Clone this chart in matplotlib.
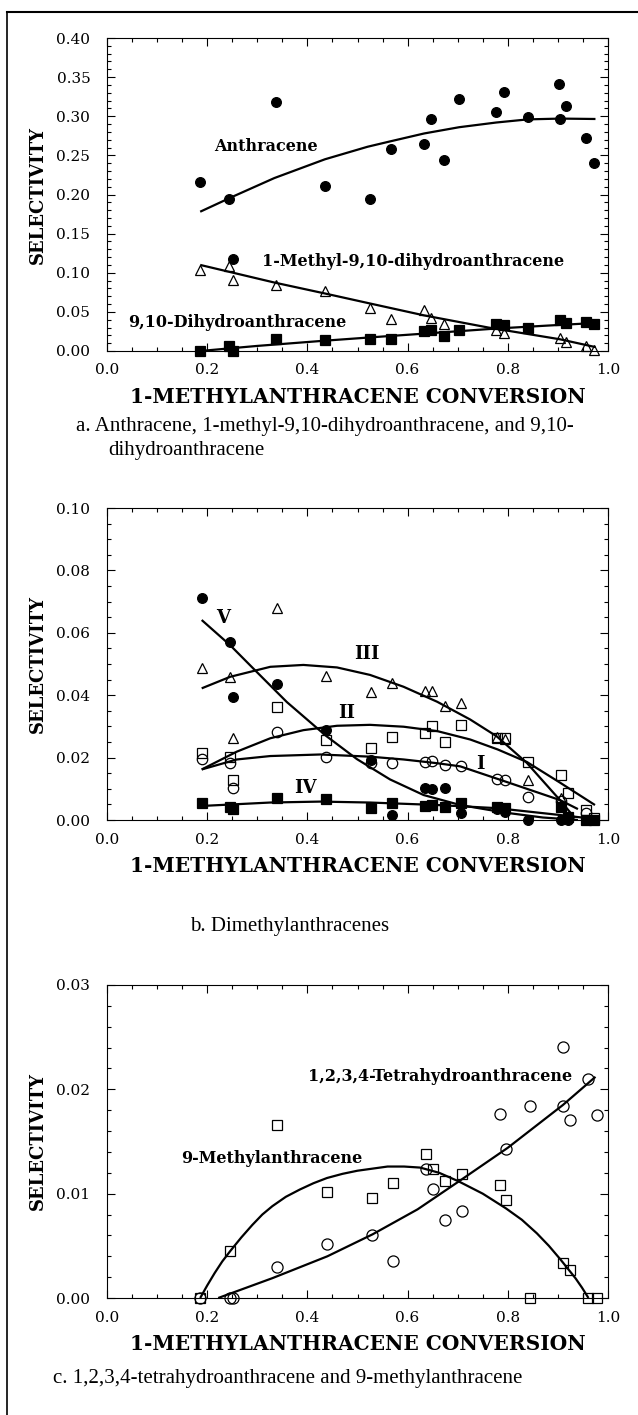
import numpy as np
import matplotlib
matplotlib.use('Agg')
from matplotlib import pyplot as plt
from matplotlib.ticker import MultipleLocator, FormatStrFormatter
from matplotlib.lines import Line2D

nan = np.nan

## panel a : anthracene, 1-methyl-9,10-DHA, 9,10-DHA
anth_x = [0.186, 0.244, 0.251, 0.337, 0.435, 0.525, 0.566, 0.633, 0.647, 0.673,
          0.703, 0.777, 0.793, 0.840, 0.903, 0.905, 0.917, 0.957, 0.973]
anth_y = [0.216, 0.194, 0.118, 0.318, 0.211, 0.194, 0.258, 0.264, 0.297, 0.244,
          0.322, 0.306, 0.331, 0.299, 0.341, 0.296, 0.313, 0.272, 0.240]
anth_fit_x = [0.186, 0.25, 0.334, 0.435, 0.52, 0.566, 0.633, 0.703, 0.777, 0.840, 0.905, 0.975]
anth_fit_y = [0.178, 0.197, 0.221, 0.245, 0.261, 0.268, 0.278, 0.286, 0.292, 0.296, 0.297, 0.2965]

mdha_x = [0.186, 0.244, 0.251, 0.337, 0.435, 0.525, 0.566, 0.633, 0.647, 0.673,
          0.777, 0.793, 0.905, 0.917, 0.957, 0.973]
mdha_y = [0.104, 0.108, 0.091, 0.084, 0.077, 0.055, 0.041, 0.052, 0.042, 0.035,
          0.027, 0.023, 0.016, 0.012, 0.006, 0.001]
mdha_fit_x = [0.186, 0.334, 0.435, 0.523, 0.633, 0.761, 0.904, 0.975]
mdha_fit_y = [0.110, 0.0875, 0.0735, 0.0610, 0.0455, 0.0300, 0.0150, 0.0050]

dha_x = [0.186, 0.244, 0.251, 0.337, 0.435, 0.525, 0.566, 0.633, 0.647, 0.673,
         0.703, 0.777, 0.793, 0.840, 0.905, 0.917, 0.957, 0.973]
dha_y = [0.000, 0.006, 0.000, 0.015, 0.014, 0.015, 0.015, 0.025, 0.027, 0.019,
         0.027, 0.0345, 0.033, 0.030, 0.039, 0.036, 0.0375, 0.035]
dha_fit_x = [0.186, 0.30, 0.435, 0.55, 0.633, 0.777, 0.88, 0.975]
dha_fit_y = [0.000, 0.0065, 0.0132, 0.0185, 0.0222, 0.0287, 0.0325, 0.0358]

## panel b : dimethylanthracenes I - V
conv_b = [0.189, 0.246, 0.252, 0.340, 0.437, 0.526, 0.568, 0.635, 0.649, 0.674,
          0.706, 0.778, 0.794, 0.840, 0.907, 0.920, 0.957, 0.973]
dma1_y = [0.0194, 0.0184, 0.0101, 0.0283, 0.0203, 0.0182, 0.0182, 0.0187, 0.0189, 0.0176,
          0.0173, 0.0131, 0.0127, 0.0074, 0.0062, nan, 0.0022, nan]
dma2_y = [0.0214, 0.0203, 0.0128, 0.0362, 0.0256, 0.0232, 0.0267, 0.0280, 0.0302, 0.0251,
          0.0303, 0.0263, 0.0263, 0.0186, 0.0144, 0.0087, 0.0032, 0.0005]
dma3_y = [0.0486, 0.0459, 0.0262, 0.0678, 0.0463, 0.0411, 0.0440, 0.0413, 0.0413, 0.0366,
          0.0376, 0.0266, 0.0260, 0.0128, 0.0070, nan, nan, nan]
dma4_y = [0.0056, 0.0043, 0.0034, 0.0069, 0.0066, 0.0037, 0.0056, 0.0045, 0.0048, 0.0043,
          0.0053, 0.0042, 0.0037, nan, 0.0042, 0.0010, 0.0, 0.0]
dma5_y = [0.0710, 0.0572, 0.0394, 0.0437, 0.0287, 0.0192, 0.0015, 0.0104, 0.0100, 0.0101,
          0.0021, 0.0035, 0.0025, 0.0, 0.0, 0.0, 0.0, 0.0]

dma1_fit_x = [0.189, 0.259, 0.326, 0.426, 0.525, 0.592, 0.659, 0.705, 0.805, 0.904, 0.940]
dma1_fit_y = [0.0162, 0.0194, 0.0205, 0.0210, 0.0203, 0.0194, 0.0182, 0.0172, 0.0118, 0.0064, 0.0035]
dma2_fit_x = [0.189, 0.259, 0.326, 0.392, 0.459, 0.525, 0.592, 0.659, 0.725, 0.780, 0.838, 0.904, 0.974]
dma2_fit_y = [0.0162, 0.0219, 0.0262, 0.0288, 0.0302, 0.0305, 0.0299, 0.0285, 0.0258, 0.0226, 0.0186, 0.0120, 0.0048]
dma3_fit_x = [0.189, 0.246, 0.326, 0.392, 0.459, 0.525, 0.592, 0.659, 0.725, 0.778, 0.838, 0.904, 0.934]
dma3_fit_y = [0.0422, 0.0459, 0.0491, 0.0497, 0.0489, 0.0465, 0.0427, 0.0379, 0.0322, 0.0268, 0.0183, 0.0064, 0.0006]
dma4_fit_x = [0.189, 0.326, 0.426, 0.525, 0.659, 0.778, 0.904, 0.975]
dma4_fit_y = [0.0045, 0.0056, 0.0059, 0.0056, 0.0048, 0.0038, 0.0016, 0.0003]
dma5_fit_x = [0.189, 0.246, 0.293, 0.359, 0.437, 0.499, 0.565, 0.632, 0.705, 0.793, 0.870, 0.940]
dma5_fit_y = [0.0641, 0.0560, 0.0484, 0.0378, 0.0270, 0.0195, 0.0130, 0.0080, 0.0048, 0.0024, 0.0008, 0.0]

## panel c : 1,2,3,4-tetrahydroanthracene and 9-methylanthracene
me9_x = [0.186, 0.246, 0.340, 0.439, 0.528, 0.570, 0.637, 0.651, 0.675, 0.708,
         0.784, 0.797, 0.844, 0.910, 0.925, 0.961, 0.978]
me9_y = [0.0, 0.0045, 0.0166, 0.0102, 0.0096, 0.0110, 0.0138, 0.0124, 0.0112, 0.0119,
         0.0108, 0.0094, 0.0, 0.0034, 0.0027, 0.0, 0.0]
me9_fit_x = [0.186, 0.200, 0.215, 0.230, 0.246, 0.268, 0.290, 0.310, 0.330, 0.357, 0.385,
             0.412, 0.439, 0.470, 0.500, 0.530, 0.560, 0.593, 0.625, 0.663, 0.701, 0.750,
             0.796, 0.828, 0.858, 0.882, 0.905, 0.920, 0.935, 0.948, 0.961]
me9_fit_y = [0.0, 0.0012, 0.0024, 0.0035, 0.0045, 0.0058, 0.0070, 0.0080, 0.0088, 0.0097, 0.0104,
             0.0110, 0.0115, 0.0119, 0.0122, 0.0124, 0.0126, 0.0126, 0.0125, 0.0120, 0.0112, 0.0100,
             0.0086, 0.0075, 0.0062, 0.0050, 0.0037, 0.0028, 0.0019, 0.0010, 0.0]

tha_x = [0.186, 0.246, 0.251, 0.340, 0.439, 0.528, 0.570, 0.637, 0.651, 0.675,
         0.708, 0.784, 0.797, 0.844, 0.910, 0.910, 0.925, 0.961, 0.978]
tha_y = [0.0, 0.0, 0.0, 0.0030, 0.0052, 0.0060, 0.0035, 0.0124, 0.0104, 0.0075,
         0.0083, 0.0176, 0.0143, 0.0184, 0.0241, 0.0184, 0.0171, 0.0210, 0.0175]
tha_fit_x = [0.222, 0.33, 0.44, 0.53, 0.62, 0.703, 0.80, 0.91, 0.975]
tha_fit_y = [0.0, 0.0019, 0.0040, 0.0061, 0.0085, 0.0112, 0.0144, 0.0185, 0.0212]


plt.rcParams['font.family'] = 'DejaVu Serif'
plt.rcParams['font.size'] = 11

W, H = 638, 1415
fig = plt.figure(figsize=(W / 100, H / 100), dpi=100)

def px_rect(top, bottom, left=107, right=608):
    return [left / W, 1 - bottom / H, (right - left) / W, (bottom - top) / H]

def setup_axes(ax, ymax, ymajor, yminor):
    ax.set_xlim(0, 1.0)
    ax.set_ylim(0, ymax)
    ax.xaxis.set_major_locator(MultipleLocator(0.2))
    ax.xaxis.set_minor_locator(MultipleLocator(0.05))
    ax.yaxis.set_major_locator(MultipleLocator(ymajor))
    ax.yaxis.set_minor_locator(MultipleLocator(yminor))
    ax.xaxis.set_major_formatter(FormatStrFormatter('%.1f'))
    ax.yaxis.set_major_formatter(FormatStrFormatter('%.2f'))
    ax.tick_params(which='both', direction='in', top=True, right=True, width=0.8)
    ax.tick_params(which='major', length=6)
    ax.tick_params(which='minor', length=3)
    ax.tick_params(axis='x', pad=9)
    ax.tick_params(axis='y', pad=12)
    for s in ax.spines.values():
        s.set_linewidth(0.8)

def scatter(ax, x, y, marker, filled, ms):
    fc = 'black' if filled else 'none'
    ax.plot(x, y, linestyle='none', marker=marker, ms=ms, mfc=fc, mec='black',
            mew=0.9, clip_on=False, zorder=3)

def fitline(ax, x, y):
    ax.plot(x, y, color='black', lw=1.6, solid_capstyle='butt', zorder=4)

lbl_kw = dict(fontsize=11.5, fontweight='bold', va='center')

def axis_titles(top, bottom):
    fig.text(((107 + 608) / 2) / W, 1 - (bottom + 46) / H, '1-METHYLANTHRACENE CONVERSION',
             ha='center', va='center', fontsize=14.5, fontweight='bold')
    fig.text(38 / W, 1 - (top + bottom) / 2 / H, 'SELECTIVITY', rotation=90,
             ha='center', va='center', fontsize=13, fontweight='bold')

cap_kw = dict(family='Liberation Serif', fontsize=15, va='center', ha='left')

# panel a
ax1 = fig.add_axes(px_rect(38, 351))
setup_axes(ax1, 0.40, 0.05, 0.01)
scatter(ax1, anth_x, anth_y, 'o', True, 7)
scatter(ax1, mdha_x, mdha_y, '^', False, 7)
scatter(ax1, dha_x, dha_y, 's', True, 6.5)
fitline(ax1, anth_fit_x, anth_fit_y)
fitline(ax1, mdha_fit_x, mdha_fit_y)
fitline(ax1, dha_fit_x, dha_fit_y)
ax1.text(0.213, 0.261, 'Anthracene', **lbl_kw)
ax1.text(0.309, 0.114, '1-Methyl-9,10-dihydroanthracene', **lbl_kw)
ax1.text(0.042, 0.037, '9,10-Dihydroanthracene', **lbl_kw)
axis_titles(38, 351)
fig.text(76 / W, 1 - 426 / H, 'a. Anthracene, 1-methyl-9,10-dihydroanthracene, and 9,10-', **cap_kw)
fig.text(108 / W, 1 - 450 / H, 'dihydroanthracene', **cap_kw)

# panel b
ax2 = fig.add_axes(px_rect(508, 820))
setup_axes(ax2, 0.10, 0.02, 0.005)
scatter(ax2, conv_b, dma5_y, 'o', True, 7)
scatter(ax2, conv_b, dma3_y, '^', False, 6.5)
scatter(ax2, conv_b, dma2_y, 's', False, 6.5)
scatter(ax2, conv_b, dma1_y, 'o', False, 7.5)
scatter(ax2, conv_b, dma4_y, 's', True, 6.5)
for fx, fy in [(dma1_fit_x, dma1_fit_y), (dma2_fit_x, dma2_fit_y), (dma3_fit_x, dma3_fit_y),
               (dma4_fit_x, dma4_fit_y), (dma5_fit_x, dma5_fit_y)]:
    fitline(ax2, fx, fy)
rn_kw = dict(fontsize=13, fontweight='bold', va='center', ha='center')
ax2.text(0.232, 0.0646, 'V', **rn_kw)
ax2.text(0.519, 0.0532, 'III', **rn_kw)
ax2.text(0.479, 0.0344, 'II', **rn_kw)
ax2.text(0.396, 0.0104, 'IV', **rn_kw)
ax2.text(0.746, 0.0179, 'I', **rn_kw)
axis_titles(508, 820)
fig.text(190 / W, 1 - 926 / H, 'b. Dimethylanthracenes', **cap_kw)

# panel c
ax3 = fig.add_axes(px_rect(985, 1298))
setup_axes(ax3, 0.03, 0.01, 0.002)
scatter(ax3, me9_x, me9_y, 's', False, 7)
scatter(ax3, tha_x, tha_y, 'o', False, 8)
fitline(ax3, me9_fit_x, me9_fit_y)
fitline(ax3, tha_fit_x, tha_fit_y)
ax3.text(0.401, 0.0212, '1,2,3,4-Tetrahydroanthracene', **lbl_kw)
ax3.text(0.148, 0.0134, '9-Methylanthracene', **lbl_kw)
axis_titles(985, 1298)
fig.text(53 / W, 1 - 1378 / H, 'c. 1,2,3,4-tetrahydroanthracene and 9-methylanthracene', **cap_kw)

# page border (top and left rule)
fig.add_artist(Line2D([7 / W, 1.0], [1 - 12 / H, 1 - 12 / H], color='black', lw=1.5))
fig.add_artist(Line2D([7 / W, 7 / W], [1 - 12 / H, 0.0], color='black', lw=1.2))

fig.savefig('out.png', dpi=100)
